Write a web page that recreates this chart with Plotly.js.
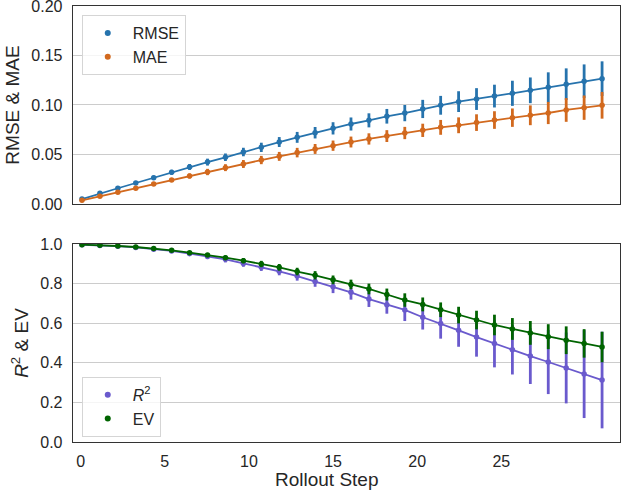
<!DOCTYPE html>
<html>
<head>
<meta charset="utf-8">
<script src="https://cdn.plot.ly/plotly-3.0.1.min.js"></script>
<style>html,body{margin:0;padding:0;background:#fff;}#chart{width:621px;height:493px;}</style>
</head>
<body>
<div id="chart"></div>
<script>
const steps = Array.from({length: 30}, (_, i) => i);
const tickLabels = [0, 5, 10, 15, 20, 25];

const rmse = [0.005,0.0108,0.0159,0.0212,0.0266,0.032,0.0374,0.0423,0.0472,0.0525,0.0572,0.0626,0.0673,0.072,0.0764,0.0808,0.0845,0.0886,0.0918,0.096,0.0997,0.1034,0.106,0.109,0.1118,0.1148,0.1178,0.121,0.124,0.1266];
const rmseErr = [0.0004,0.0008,0.0012,0.0016,0.002,0.0025,0.003,0.0035,0.0038,0.0043,0.0047,0.005,0.0055,0.0058,0.0062,0.0066,0.0071,0.0074,0.0082,0.0092,0.0095,0.0105,0.011,0.0115,0.0127,0.013,0.0152,0.016,0.017,0.0175];
const mae = [0.0037,0.0078,0.0118,0.0158,0.0202,0.0242,0.0283,0.0323,0.0367,0.0404,0.0444,0.0481,0.0519,0.0556,0.0589,0.0626,0.0657,0.0686,0.0717,0.0744,0.0774,0.0795,0.0822,0.0848,0.0872,0.0896,0.0919,0.095,0.0973,0.0997];
const maeErr = [0.0003,0.0007,0.001,0.0013,0.0017,0.002,0.0025,0.0032,0.0035,0.004,0.0042,0.0045,0.0048,0.005,0.0052,0.0055,0.0057,0.006,0.0062,0.0067,0.0075,0.008,0.0084,0.0089,0.0093,0.01,0.0112,0.012,0.0123,0.0135];
const r2 = [0.996,0.993,0.989,0.983,0.974,0.965,0.951,0.937,0.923,0.902,0.882,0.862,0.838,0.811,0.784,0.756,0.722,0.693,0.667,0.630,0.598,0.564,0.530,0.497,0.466,0.434,0.404,0.374,0.343,0.313];
const r2Err = [0.001,0.002,0.003,0.004,0.006,0.008,0.010,0.013,0.016,0.017,0.018,0.02,0.023,0.027,0.032,0.037,0.04,0.045,0.056,0.062,0.076,0.083,0.099,0.12,0.125,0.141,0.162,0.179,0.222,0.244];
const ev = [0.9965,0.994,0.990,0.985,0.977,0.968,0.956,0.944,0.931,0.916,0.899,0.882,0.861,0.842,0.819,0.796,0.773,0.745,0.717,0.695,0.668,0.641,0.616,0.591,0.571,0.551,0.532,0.514,0.498,0.480];
const evErr = [0.001,0.002,0.003,0.004,0.005,0.006,0.007,0.009,0.011,0.013,0.016,0.017,0.019,0.021,0.022,0.024,0.027,0.030,0.034,0.035,0.037,0.042,0.047,0.052,0.055,0.06,0.063,0.07,0.072,0.077];

const C_RMSE = '#2673ad', C_MAE = '#d2691e', C_R2 = '#6a5acd', C_EV = '#006400';
const FONT = '"Liberation Sans", Arial, sans-serif';

function series(y, err, color, xa, ya) {
  return {
    x: steps, y: y, xaxis: xa, yaxis: ya, type: 'scatter', mode: 'lines+markers',
    line: {color: color, width: 1.8},
    marker: {color: color, size: 5.5},
    error_y: {type: 'data', array: err, visible: true, color: color, thickness: 2.8, width: 0},
    showlegend: false, hoverinfo: 'skip'
  };
}
function legendItem(name, color, xa, ya, leg) {
  return {
    x: [null], y: [null], xaxis: xa, yaxis: ya, type: 'scatter', mode: 'markers',
    marker: {color: color, size: 6}, name: name, legend: leg, showlegend: true
  };
}

const data = [
  series(rmse, rmseErr, C_RMSE, 'x', 'y'),
  series(mae, maeErr, C_MAE, 'x', 'y'),
  series(r2, r2Err, C_R2, 'x2', 'y2'),
  series(ev, evErr, C_EV, 'x2', 'y2'),
  legendItem('RMSE', C_RMSE, 'x', 'y', 'legend'),
  legendItem('MAE', C_MAE, 'x', 'y', 'legend'),
  legendItem('<i>R</i><sup>2</sup>', C_R2, 'x2', 'y2', 'legend2'),
  legendItem('EV', C_EV, 'x2', 'y2', 'legend2')
];

const tickScale = 0.938, tickShift = -0.07;
const tickvals = tickLabels.map(v => v * tickScale + tickShift);

const axLine = {showline: true, mirror: true, linecolor: '#333333', linewidth: 1.3, zeroline: false};
const legendCommon = {
  bgcolor: 'rgba(255,255,255,0.8)', bordercolor: '#d5d5d5', borderwidth: 1,
  font: {family: FONT, size: 16, color: '#262626'}, itemwidth: 40, xanchor: 'left'
};

const layout = {
  width: 621, height: 493,
  margin: {l: 73, r: 1, t: 6, b: 51},
  paper_bgcolor: '#ffffff', plot_bgcolor: '#ffffff',
  font: {family: FONT, size: 16, color: '#262626'},
  xaxis: Object.assign({domain: [0, 1], anchor: 'y', range: [-0.5, 30], showgrid: false,
    showticklabels: false, ticks: ''}, axLine),
  yaxis: Object.assign({domain: [0.5459, 1], anchor: 'x', range: [0, 0.2],
    tickvals: [0, 0.05, 0.1, 0.15, 0.19999], ticktext: ['0.00','0.05','0.10','0.15','0.20'],
    ticklabeloverflow: 'allow',
    showgrid: true, gridcolor: '#cccccc', gridwidth: 1,
    ticks: 'outside', ticklen: 6, tickcolor: 'rgba(0,0,0,0)',
    tickfont: {size: 16, color: '#262626'},
    title: {text: 'RMSE & MAE', font: {size: 19, color: '#262626'}, standoff: 6}}, axLine),
  xaxis2: Object.assign({domain: [0, 1], anchor: 'y2', range: [-0.5, 30], showgrid: false,
    tickvals: tickvals, ticktext: tickLabels.map(String),
    ticks: 'outside', ticklen: 4, tickcolor: 'rgba(0,0,0,0)',
    tickfont: {size: 16, color: '#262626'}}, axLine),
  yaxis2: Object.assign({domain: [0, 0.4541], anchor: 'x2', range: [0, 1],
    tickvals: [0, 0.2, 0.4, 0.6, 0.8, 0.99999], ticktext: ['0.0','0.2','0.4','0.6','0.8','1.0'],
    ticklabeloverflow: 'allow',
    showgrid: true, gridcolor: '#cccccc', gridwidth: 1,
    ticks: 'outside', ticklen: 6, tickcolor: 'rgba(0,0,0,0)',
    tickfont: {size: 16, color: '#262626'},
    title: {text: '<i>R</i><sup>2</sup> & EV', font: {size: 19, color: '#262626'}, standoff: 6}}, axLine),
  legend: Object.assign({x: 0.016, y: 0.979, yanchor: 'top'}, legendCommon),
  legend2: Object.assign({x: 0.016, y: 0.012, yanchor: 'bottom'}, legendCommon),
  annotations: [{
    text: 'Rollout Step', xref: 'paper', yref: 'paper', x: 0.465, y: -0.085,
    xanchor: 'center', yanchor: 'middle', showarrow: false,
    font: {family: FONT, size: 19, color: '#262626'}
  }]
};

Plotly.newPlot('chart', data, layout, {displayModeBar: false, staticPlot: true});
</script>
</body>
</html>
